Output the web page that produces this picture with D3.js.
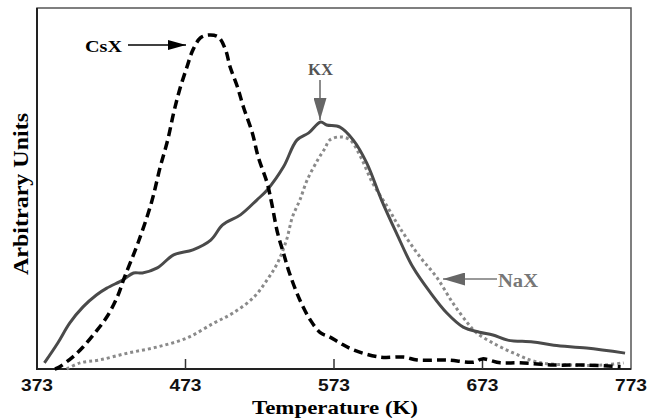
<!DOCTYPE html>
<html>
<head>
  <meta charset="utf-8">
  <title>TPD</title>
  <script src="https://d3js.org/d3.v7.min.js"></script>
  <style>
    body { margin: 0; background: #fff; }
  </style>
</head>
<body>
<script>
  // temperature (K) and signal (arbitrary units)
  var csxT = [385,387,397,404,412,420,427,432,441,450,456,461,465,469,474,478,483,488,495,500,503,508,512,518,522,528,531,535,539,543,550,557,564,570,577,586,604,620,629,649,667,673,685,698,721,743,766];
  var csxV = [0,0.003,0.033,0.061,0.100,0.144,0.199,0.255,0.349,0.460,0.560,0.634,0.709,0.773,0.837,0.884,0.917,0.925,0.920,0.884,0.837,0.781,0.726,0.654,0.587,0.515,0.460,0.377,0.321,0.266,0.191,0.136,0.100,0.089,0.072,0.053,0.033,0.033,0.025,0.025,0.019,0.028,0.017,0.017,0.011,0.011,0.006];

  var kxT = [378,387,395,404,413,420,431,438,444,454,465,478,490,498,510,521,528,539,548,556,564,568,577,586,595,605,615,626,638,649,660,671,680,690,707,721,743,769];
  var kxV = [0.017,0.072,0.127,0.172,0.205,0.224,0.247,0.266,0.266,0.280,0.316,0.330,0.357,0.399,0.427,0.468,0.496,0.560,0.634,0.654,0.684,0.676,0.670,0.634,0.571,0.468,0.377,0.283,0.211,0.155,0.116,0.102,0.094,0.080,0.075,0.066,0.058,0.044];

  var naxT = [393,402,415,434,454,474,492,505,519,528,535,541,545,550,555,562,567,570,577,584,591,599,609,617,631,642,653,663,669,680,694,710,732,754,768];
  var naxV = [0,0.017,0.025,0.044,0.061,0.086,0.127,0.155,0.199,0.247,0.294,0.357,0.421,0.468,0.524,0.579,0.612,0.634,0.643,0.634,0.587,0.515,0.449,0.393,0.310,0.255,0.183,0.127,0.100,0.072,0.044,0.019,0.011,0.011,0.017];

  var xTicks = [373,473,573,673,773];

  var w = 649, h = 418;
  var pL = 37, pR = 631, pT = 8, pB = 369;

  var x = d3.scaleLinear().domain([373,773]).range([pL,pR]);
  var y = d3.scaleLinear().domain([0,1]).range([pB,pT]);

  var serif = "Liberation Serif, Times New Roman, serif";

  var svg = d3.select("body").append("svg").attr("width",w).attr("height",h);

  // arrow heads
  var defs = svg.append("defs");
  [["#000",18,10],["#666",22,13]].forEach(function(m,i){
    defs.append("marker")
      .attr("id","head"+i)
      .attr("viewBox","0 0 10 10")
      .attr("refX",10).attr("refY",5)
      .attr("markerWidth",m[1]).attr("markerHeight",m[2])
      .attr("markerUnits","userSpaceOnUse")
      .attr("preserveAspectRatio","none")
      .attr("orient","auto")
      .append("path").attr("d","M0,0L10,5L0,10Z").attr("fill",m[0]);
  });

  // frame
  svg.append("rect")
    .attr("x",pL).attr("y",pT)
    .attr("width",pR-pL).attr("height",pB-pT)
    .attr("fill","none").attr("stroke","#555").attr("stroke-width",1.5);
  svg.append("path")
    .attr("d","M"+pL+","+pT+"V"+pB+"H"+pR)
    .attr("fill","none").attr("stroke","#222").attr("stroke-width",2);

  // x axis ticks (inside, pointing up) and labels
  svg.selectAll(".tick").data(xTicks.slice(1,-1)).enter().append("line")
    .attr("x1",function(d){return x(d);}).attr("x2",function(d){return x(d);})
    .attr("y1",pB).attr("y2",pB-10)
    .attr("stroke","#333").attr("stroke-width",1.5);

  svg.selectAll(".tl").data(xTicks).enter().append("text")
    .attr("x",function(d){return x(d);})
    .attr("y",391)
    .attr("text-anchor","middle")
    .attr("font-family","Liberation Sans, Arial, sans-serif")
    .attr("font-weight","bold")
    .attr("font-size","17px")
    .attr("textLength",32).attr("lengthAdjust","spacingAndGlyphs")
    .attr("fill","#111")
    .text(function(d){return d;});

  svg.append("text")
    .attr("x",335).attr("y",414)
    .attr("text-anchor","middle")
    .attr("font-family",serif)
    .attr("font-weight","bold").attr("font-size","19px")
    .attr("textLength",166).attr("lengthAdjust","spacingAndGlyphs")
    .text("Temperature (K)");

  svg.append("text")
    .attr("transform","translate(28,194) rotate(-90)")
    .attr("text-anchor","middle")
    .attr("font-family",serif)
    .attr("font-weight","bold").attr("font-size","21px")
    .attr("textLength",162).attr("lengthAdjust","spacingAndGlyphs")
    .text("Arbitrary Units");

  var line = d3.line().curve(d3.curveCatmullRom)
    .x(function(d){return x(d[0]);}).y(function(d){return y(d[1]);});

  function pairs(t,v){ return t.map(function(d,i){return [d,v[i]];}); }

  svg.append("path").datum(pairs(naxT,naxV))
    .attr("d",line).attr("fill","none")
    .attr("stroke","#8a8a8a").attr("stroke-width",3)
    .attr("stroke-dasharray","3,3");

  svg.append("path").datum(pairs(kxT,kxV))
    .attr("d",line).attr("fill","none")
    .attr("stroke","#4a4a4a").attr("stroke-width",3);

  svg.append("path").datum(pairs(csxT,csxV))
    .attr("d",line).attr("fill","none")
    .attr("stroke","#000").attr("stroke-width",3.5)
    .attr("stroke-dasharray","9,5");

  // labels with arrows
  svg.append("text").attr("x",85).attr("y",52)
    .attr("font-family",serif).attr("font-weight","bold")
    .attr("font-size","16px")
    .attr("textLength",37).attr("lengthAdjust","spacingAndGlyphs")
    .text("CsX");
  svg.append("line").attr("x1",128).attr("y1",45).attr("x2",186).attr("y2",45)
    .attr("stroke","#000").attr("stroke-width",1.5).attr("marker-end","url(#head0)");

  svg.append("text").attr("x",308).attr("y",75)
    .attr("font-family",serif).attr("font-weight","bold")
    .attr("font-size","16px").attr("fill","#555")
    .attr("textLength",25).attr("lengthAdjust","spacingAndGlyphs")
    .text("KX");
  svg.append("line").attr("x1",320).attr("y1",80).attr("x2",320).attr("y2",120)
    .attr("stroke","#666").attr("stroke-width",1.5).attr("marker-end","url(#head1)");

  svg.append("text").attr("x",498).attr("y",287)
    .attr("font-family",serif).attr("font-weight","bold")
    .attr("font-size","18px").attr("fill","#777")
    .attr("textLength",40).attr("lengthAdjust","spacingAndGlyphs")
    .text("NaX");
  svg.append("line").attr("x1",497).attr("y1",279).attr("x2",443).attr("y2",279)
    .attr("stroke","#777").attr("stroke-width",1.5).attr("marker-end","url(#head1)");
</script>
</body>
</html>
